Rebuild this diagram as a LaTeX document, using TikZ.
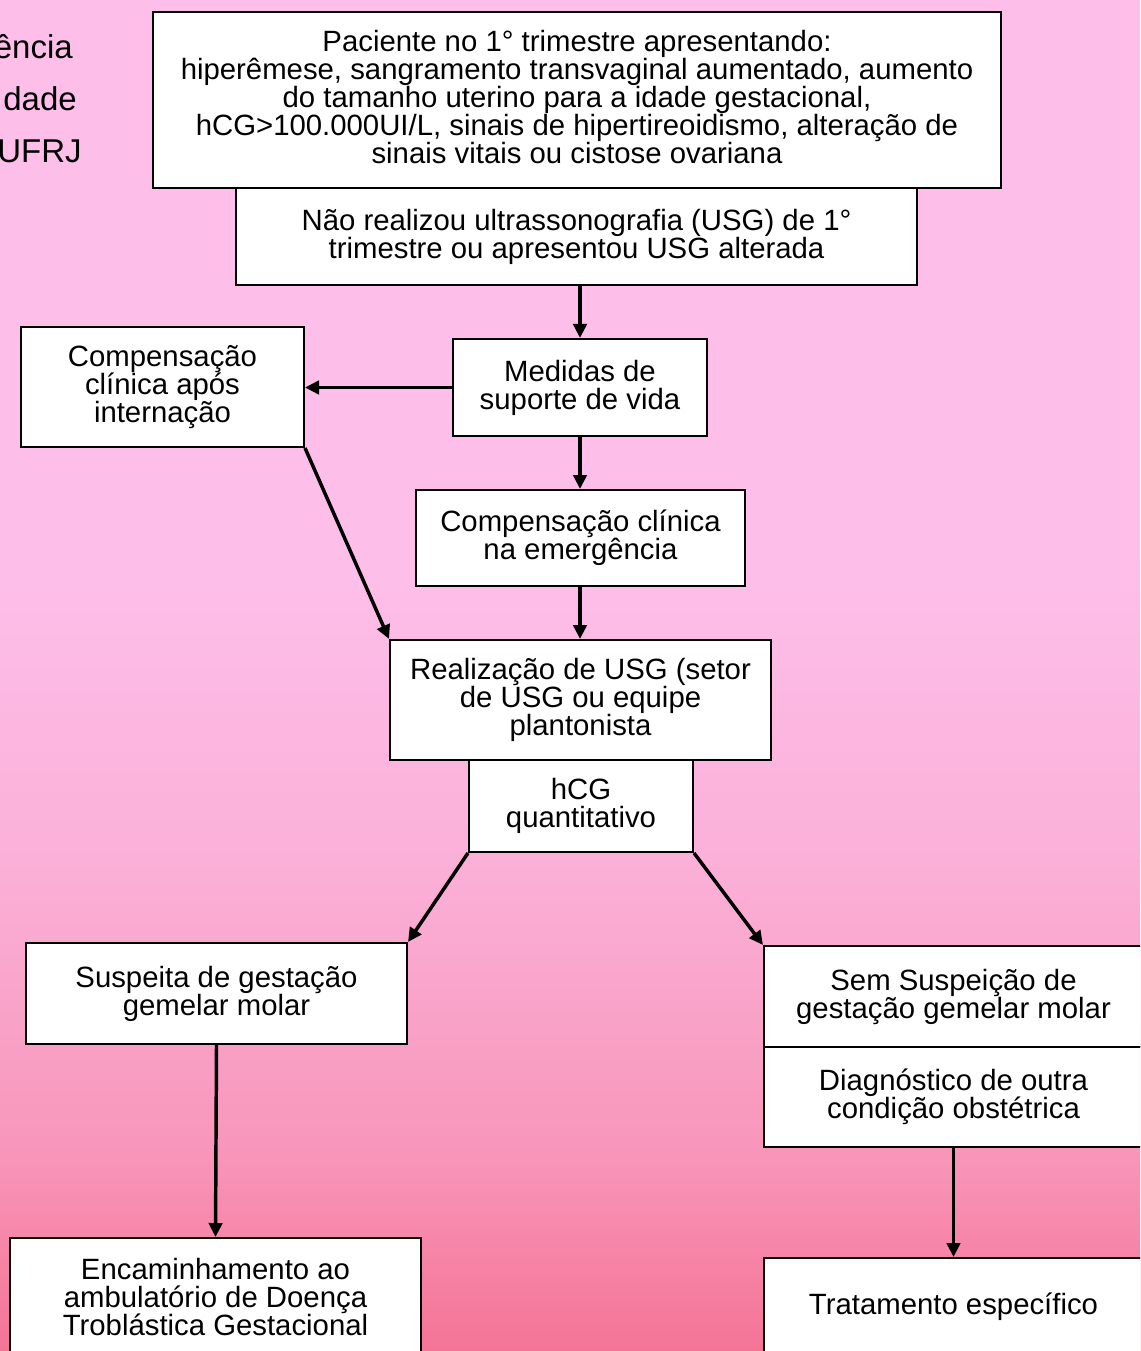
\documentclass[tikz,border=0pt]{standalone}
\usepackage{fontspec}
\setmainfont{Liberation Sans}
\usetikzlibrary{arrows.meta,calc}
\definecolor{bgA}{RGB}{253,191,234}
\definecolor{bgB}{RGB}{251,176,216}
\definecolor{bgC}{RGB}{248,150,186}
\definecolor{bgD}{RGB}{244,116,150}
\tikzset{
  txt/.style={font=\fontsize{22}{21}\selectfont, text=black},
  bigtxt/.style={font=\fontsize{24.75}{24}\selectfont, text=black},
  boxnode/.style={txt, draw=black, line width=1.5pt, fill=white, align=center, inner sep=0pt, anchor=center},
  arr/.style={line width=2.6pt, -{Triangle[length=10.5pt,width=10pt]}},
}
\begin{document}
\begin{tikzpicture}[x=0.75pt,y=-0.75pt]
\useasboundingbox (0,0) rectangle (1140,1351);
\clip (0,0) rectangle (1140,1351);
% background
\fill[bgA] (0,0) rectangle (1140,561);
\shade[top color=bgA,bottom color=bgB] (0,560) rectangle (1140,861);
\shade[top color=bgB,bottom color=bgC] (0,860) rectangle (1140,1151);
\shade[top color=bgC,bottom color=bgD] (0,1150) rectangle (1140,1351);

% partial title at left
\node[bigtxt, anchor=east, inner sep=0pt] (t1) at (73,47) {ência};
\node[bigtxt, anchor=east, inner sep=0pt] (t2) at (77,99) {dade};
\node[bigtxt, anchor=east, inner sep=0pt] (t3) at (82,151) {UFRJ};

% boxes
\node[boxnode, minimum width=636pt, minimum height=132pt, text depth=4pt] (top) at (577,100)
  {Paciente no 1° trimestre apresentando:\\
   hiperêmese, sangramento transvaginal aumentado, aumento\\
   do tamanho uterino para a idade gestacional,\\
   hCG>100.000UI/L, sinais de hipertireoidismo, alteração de\\
   sinais vitais ou cistose ovariana};
\node[boxnode, minimum width=510.75pt, minimum height=72.75pt] (usg) at (576.5,236.5)
  {Não realizou ultrassonografia (USG) de 1°\\ trimestre ou apresentou USG alterada};
\node[boxnode, minimum width=190.5pt, minimum height=72.75pt] (med) at (580,387.5)
  {Medidas de\\ suporte de vida};
\node[boxnode, minimum width=212.25pt, minimum height=90pt] (capos) at (162.5,387)
  {Compensação\\ clínica após\\ internação};
\node[boxnode, minimum width=246.75pt, minimum height=72pt] (cemer) at (580.5,538)
  {Compensação clínica\\ na emergência};
\node[boxnode, minimum width=285.75pt, minimum height=90pt] (real) at (580.5,700)
  {Realização de USG (setor\\ de USG ou equipe\\ plantonista};
\node[boxnode, minimum width=168pt, minimum height=69pt] (hcg) at (581,806)
  {hCG\\ quantitativo};
\node[boxnode, minimum width=285.75pt, minimum height=75.75pt] (susp) at (216.5,993.5)
  {Suspeita de gestação\\ gemelar molar};
\node[boxnode, minimum width=284.25pt, minimum height=75.75pt] (sem) at (953.5,996.5)
  {Sem Suspeição de\\ gestação gemelar molar};
\node[boxnode, minimum width=284.25pt, minimum height=75pt] (diag) at (953.5,1097)
  {Diagnóstico de outra\\ condição obstétrica};
\node[boxnode, minimum width=308.25pt, minimum height=88.5pt] (enc) at (215.5,1297)
  {Encaminhamento ao\\ ambulatório de Doença\\ Troblástica Gestacional};
\node[boxnode, minimum width=284.25pt, minimum height=73.5pt] (trat) at (953.5,1307)
  {Tratamento específico};

% connectors
\draw[arr] (med.north |- usg.south) -- (med.north);
\draw[arr] (med.west) -- (capos.east |- med.west);
\draw[arr] (med.south) -- (cemer.north -| med.south);
\draw[arr] (cemer.south -| med.south) -- (real.north -| med.south);
\draw[arr] (capos.south east) -- (real.north west);
\draw[arr] (hcg.south west) -- (susp.north east);
\draw[arr] (hcg.south east) -- (sem.north west);
\draw[arr] (susp.south) -- (enc.north);
\draw[arr] (diag.south) -- (trat.north);
\end{tikzpicture}
\end{document}
